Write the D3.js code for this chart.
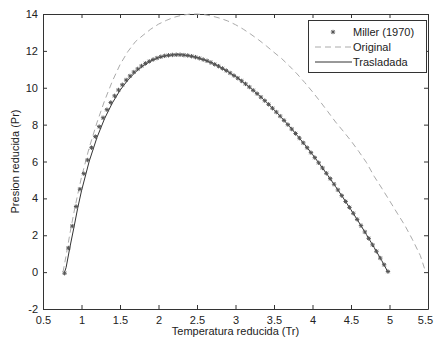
<!DOCTYPE html>
<html lang="es">
<head>
<meta charset="UTF-8">
<title>Presion reducida vs Temperatura reducida</title>
<script src="https://d3js.org/d3.v7.min.js"></script>
<style>
html, body {
  margin: 0;
  padding: 0;
  background-color: white;
}
body {
  font-family: 'Liberation Sans', Arial, sans-serif;
}
.axis text {
  font-family: 'Liberation Sans', Arial, sans-serif;
  font-size: 11px;
  fill: #222;
}
.axis path, .axis line {
  stroke: #333;
  stroke-width: 1;
}
.axis-title {
  font-size: 11px;
  fill: #222;
}
.legend-text {
  font-size: 11px;
  fill: #222;
}
</style>
</head>
<body>
<div id="chart"></div>
<script>

// --------------------------------------
//  Data
// --------------------------------------

// Miller (1970) markers
const millerTr = [0.78, 0.83, 0.88, 0.93, 0.98, 1.03, 1.08, 1.13, 1.18, 1.23, 1.28, 1.33, 1.38, 1.43, 1.48,
  1.53, 1.58, 1.63, 1.68, 1.73, 1.78, 1.83, 1.88, 1.93, 1.98, 2.03, 2.08, 2.13, 2.18, 2.23,
  2.28, 2.33, 2.38, 2.43, 2.48, 2.53, 2.58, 2.63, 2.68, 2.73, 2.78, 2.83, 2.88, 2.93, 2.98,
  3.03, 3.08, 3.13, 3.18, 3.23, 3.28, 3.33, 3.38, 3.43, 3.48, 3.53, 3.58, 3.63, 3.68, 3.73,
  3.78, 3.83, 3.88, 3.93, 3.98, 4.03, 4.08, 4.13, 4.18, 4.23, 4.28, 4.33, 4.38, 4.43, 4.48,
  4.53, 4.58, 4.63, 4.68, 4.73, 4.78, 4.83, 4.88, 4.93, 4.98];
const millerPr = [-0.06, 1.31, 2.50, 3.56, 4.50, 5.34, 6.08, 6.75, 7.35, 7.89, 8.37, 8.81, 9.20, 9.56, 9.88,
  10.16, 10.42, 10.64, 10.85, 11.02, 11.18, 11.32, 11.43, 11.53, 11.61, 11.68, 11.73, 11.76, 11.78, 11.79,
  11.79, 11.77, 11.75, 11.71, 11.66, 11.60, 11.53, 11.46, 11.37, 11.27, 11.17, 11.05, 10.93, 10.80, 10.66,
  10.52, 10.37, 10.21, 10.04, 9.86, 9.68, 9.49, 9.30, 9.10, 8.89, 8.68, 8.46, 8.23, 8.00, 7.76,
  7.52, 7.27, 7.01, 6.75, 6.48, 6.21, 5.93, 5.65, 5.36, 5.07, 4.77, 4.46, 4.15, 3.83, 3.51,
  3.19, 2.86, 2.52, 2.18, 1.83, 1.48, 1.13, 0.76, 0.40, 0.03];

// Original (dashed)
const originalTr = [0.76, 0.80, 0.85, 0.90, 0.95, 1.00, 1.10, 1.20, 1.30, 1.40, 1.50, 1.60, 1.70, 1.80, 1.90,
  2.00, 2.10, 2.20, 2.30, 2.40, 2.50, 2.60, 2.70, 2.80, 2.90, 3.00, 3.10, 3.20, 3.30, 3.40,
  3.50, 3.60, 3.70, 3.80, 3.90, 4.00, 4.10, 4.20, 4.30, 4.40, 4.50, 4.60, 4.70, 4.80, 4.90,
  5.00, 5.10, 5.20, 5.30, 5.40, 5.47];
const originalPr = [0.0, 0.9, 2.1, 3.2, 4.2, 5.15, 6.75, 8.1, 9.3, 10.35, 11.25, 11.95, 12.5, 12.85, 13.18,
  13.45, 13.65, 13.82, 13.93, 13.99, 14.0, 13.96, 13.88, 13.77, 13.62, 13.42, 13.18, 12.9, 12.6, 12.27,
  11.92, 11.58, 11.18, 10.75, 10.28, 9.78, 9.25, 8.7, 8.14, 7.64, 7.12, 6.55, 5.95, 5.2, 4.55,
  3.88, 3.2, 2.53, 1.75, 0.9, 0.0];

// Trasladada (solid)
const trasladadaTr = [0.78, 0.80, 0.85, 0.90, 0.95, 1.00, 1.10, 1.20, 1.30, 1.40, 1.50, 1.60, 1.70, 1.80, 1.90,
  2.00, 2.10, 2.20, 2.30, 2.40, 2.50, 2.60, 2.70, 2.80, 2.90, 3.00, 3.10, 3.20, 3.30, 3.40,
  3.50, 3.60, 3.70, 3.80, 3.90, 4.00, 4.10, 4.20, 4.30, 4.40, 4.50, 4.60, 4.70, 4.80, 4.90, 4.98];
const trasladadaPr = [0.0, 0.25, 1.36, 2.39, 3.46, 4.41, 6.01, 7.29, 8.33, 9.17, 9.86, 10.41, 10.85, 11.19, 11.45,
  11.63, 11.74, 11.79, 11.79, 11.73, 11.64, 11.50, 11.33, 11.12, 10.88, 10.61, 10.30, 9.97, 9.61, 9.22,
  8.81, 8.37, 7.91, 7.42, 6.91, 6.38, 5.82, 5.24, 4.64, 4.02, 3.38, 2.72, 2.04, 1.34, 0.62, 0.0];

const xTicks = [0.5, 1, 1.5, 2, 2.5, 3, 3.5, 4, 4.5, 5, 5.5];
const yTicks = [-2, 0, 2, 4, 6, 8, 10, 12, 14];

const legendLabels = ["Miller (1970)", "Original", "Trasladada"];

// --------------------------------------
//  Size and margin
// --------------------------------------

let totalWidth = 434;
let totalHeight = 343;
let margin = {top: 14, right: 6, bottom: 34, left: 43};

let svg = d3.select('#chart')
  .append("svg")
  .attr("width", totalWidth)
  .attr("height", totalHeight)
  .style("display", "block");

let x = d3.scaleLinear()
  .domain([0.5, 5.5])
  .range([margin.left, totalWidth - margin.right]);

let y = d3.scaleLinear()
  .domain([-2, 14])
  .range([totalHeight - margin.bottom, margin.top]);

// --------------------------------------
// Axes (matlab box with inward ticks)
// --------------------------------------

const fmt = d => String(d);

let xAxis = svg.append("g")
  .attr("class", "axis")
  .attr("transform", `translate(0, ${y(-2)})`)
  .call(d3.axisBottom(x).tickValues(xTicks).tickFormat(fmt).tickSizeInner(-4).tickSizeOuter(0).tickPadding(7));

// last label sits on the window edge, nudge it in a bit
xAxis.selectAll(".tick text")
  .filter(d => d === 5.5)
  .attr("dx", -3);

svg.append("g")
  .attr("class", "axis")
  .attr("transform", `translate(0, ${y(14)})`)
  .call(d3.axisTop(x).tickValues(xTicks).tickFormat("").tickSizeInner(-4).tickSizeOuter(0));

svg.append("g")
  .attr("class", "axis")
  .attr("transform", `translate(${x(0.5)}, 0)`)
  .call(d3.axisLeft(y).tickValues(yTicks).tickFormat(fmt).tickSizeInner(-4).tickSizeOuter(0).tickPadding(5));

svg.append("g")
  .attr("class", "axis")
  .attr("transform", `translate(${x(5.5)}, 0)`)
  .call(d3.axisRight(y).tickValues(yTicks).tickFormat("").tickSizeInner(-4).tickSizeOuter(0));

// axis titles
svg.append("text")
  .attr("class", "axis-title")
  .attr("x", (x(0.5) + x(5.5)) / 2)
  .attr("y", 335)
  .attr("text-anchor", "middle")
  .text("Temperatura reducida (Tr)");

svg.append("text")
  .attr("class", "axis-title")
  .attr("transform", `translate(19, ${(y(-2) + y(14)) / 2}) rotate(-90)`)
  .attr("text-anchor", "middle")
  .text("Presion reducida (Pr)");

// --------------------------------------
// Curves
// --------------------------------------

let line = d3.line()
  .x(d => x(d[0]))
  .y(d => y(d[1]));

svg.append("path")
  .datum(d3.zip(originalTr, originalPr))
  .attr("d", line)
  .attr("fill", "none")
  .attr("stroke", "#aaaaaa")
  .attr("stroke-width", 1)
  .attr("stroke-dasharray", "6,4");

svg.append("path")
  .datum(d3.zip(trasladadaTr, trasladadaPr))
  .attr("d", line)
  .attr("fill", "none")
  .attr("stroke", "#333333")
  .attr("stroke-width", 1);

// asterisk marker (+ and x)
const star = "M-2.2,0H2.2M0,-2.2V2.2M-1.6,-1.6L1.6,1.6M-1.6,1.6L1.6,-1.6";

svg.selectAll(".miller")
  .data(d3.zip(millerTr, millerPr))
  .join("path")
  .attr("class", "miller")
  .attr("transform", d => `translate(${x(d[0])}, ${y(d[1])})`)
  .attr("d", star)
  .attr("fill", "none")
  .attr("stroke", "#555555")
  .attr("stroke-width", 1);

// --------------------------------------
// Legend
// --------------------------------------

let legend = svg.append("g")
  .attr("transform", "translate(308, 20)");

legend.append("rect")
  .attr("x", 0.5)
  .attr("y", 0.5)
  .attr("width", 118)
  .attr("height", 52)
  .attr("fill", "white")
  .attr("stroke", "#333");

legend.append("path")
  .attr("transform", "translate(25, 12)")
  .attr("d", star)
  .attr("stroke", "#555")
  .attr("fill", "none");

legend.append("line")
  .attr("x1", 7).attr("x2", 44)
  .attr("y1", 27).attr("y2", 27)
  .attr("stroke", "#aaaaaa")
  .attr("stroke-dasharray", "6,4");

legend.append("line")
  .attr("x1", 7).attr("x2", 44)
  .attr("y1", 42).attr("y2", 42)
  .attr("stroke", "#333");

legend.selectAll(".legend-text")
  .data(legendLabels)
  .join("text")
  .attr("class", "legend-text")
  .attr("x", 45)
  .attr("y", (d, i) => 12 + i * 15)
  .attr("dy", "0.35em")
  .text(d => d);

</script>
</body>
</html>
